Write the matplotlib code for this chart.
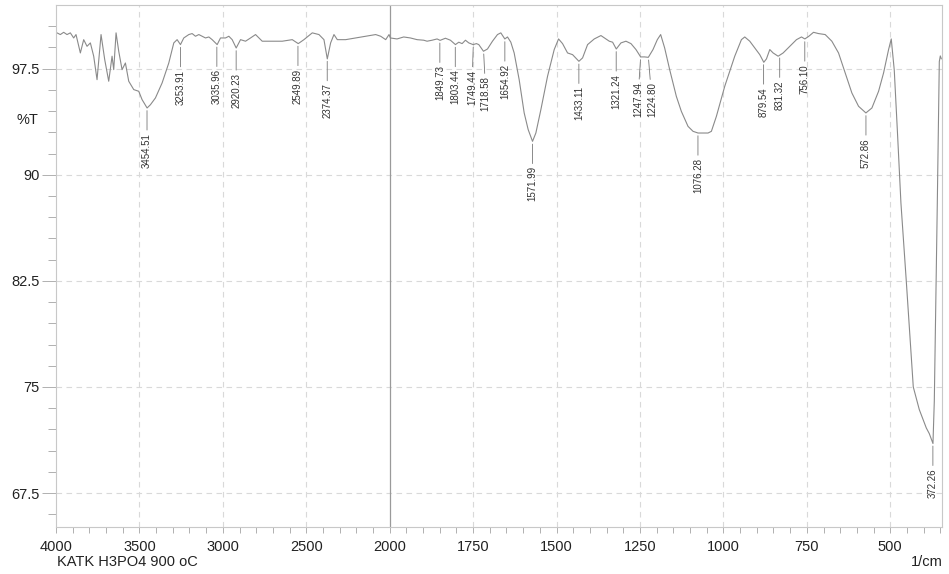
import numpy as np
import matplotlib
matplotlib.use('Agg')
import matplotlib.pyplot as plt
from matplotlib.ticker import FixedLocator, NullFormatter

plt.rcParams['font.family'] = ['Liberation Sans', 'DejaVu Sans']

# spectrum (wavenumber 1/cm, %T)
wavenumber = [4000, 3994, 3974, 3954, 3934, 3914, 3894, 3880, 3854, 3834, 3814, 3794, 3774, 3754,
              3730, 3708, 3684, 3664, 3654, 3640, 3624, 3604, 3584, 3564, 3534, 3504, 3484,
              3454, 3434, 3404, 3364, 3324, 3294, 3274, 3254, 3234, 3204, 3184, 3164, 3144,
              3124, 3104, 3084, 3064, 3034, 3014, 2984, 2964, 2944, 2920, 2894, 2864, 2834,
              2804, 2764, 2704, 2644, 2584, 2548, 2514, 2464, 2424, 2394, 2374, 2354, 2334,
              2314, 2264, 2204, 2144, 2084, 2054, 2024, 2004,
              1998, 1978, 1958, 1938, 1918, 1898, 1888, 1873, 1858, 1849, 1833, 1818, 1803,
              1793, 1783, 1773, 1763, 1750, 1740, 1733, 1719, 1707, 1692, 1677, 1667, 1655,
              1647, 1637, 1627, 1612, 1597, 1585, 1572, 1562, 1547, 1527, 1507, 1494, 1482,
              1467, 1452, 1433, 1422, 1407, 1387, 1367, 1352, 1342, 1332, 1321, 1307, 1292,
              1277, 1262, 1248, 1236, 1225, 1211, 1198, 1188, 1176, 1161, 1141, 1126, 1106,
              1091, 1076, 1061, 1046, 1036, 1021, 996, 966, 946, 936, 921, 906, 891, 879,
              871, 861, 851, 836, 821, 801, 781, 766, 756, 744, 730, 715, 695, 675, 655, 635,
              615, 595, 573, 555, 535, 520, 505, 497, 488, 478, 468, 452, 431, 413, 392, 383,
              372, 368, 359, 353, 350, 347]
transmittance = [100.0, 100.03, 99.91, 100.07, 99.91, 100.03, 99.67, 99.91, 98.61, 99.55, 99.08,
                 99.32, 98.38, 96.72, 99.91, 98.14, 96.61, 98.38, 97.43, 100.03, 98.73, 97.43,
                 97.90, 96.61, 96.02, 95.90, 95.31, 94.72, 94.95, 95.43, 96.49, 97.90, 99.32,
                 99.55, 99.20, 99.67, 99.91, 99.98, 99.79, 99.91, 99.79, 99.67, 99.74, 99.55,
                 99.20, 99.67, 99.67, 99.79, 99.55, 98.96, 99.55, 99.44, 99.67, 99.91, 99.44,
                 99.44, 99.44, 99.55, 99.27, 99.55, 100.03, 99.91, 99.55, 98.19, 99.32, 99.91,
                 99.55, 99.55, 99.67, 99.79, 99.91, 99.79, 99.55, 99.91,
                 99.67, 99.60, 99.74, 99.67, 99.55, 99.51, 99.44, 99.51, 99.60, 99.50, 99.65,
                 99.51, 99.20, 99.37, 99.27, 99.51, 99.32, 99.20, 99.27, 99.20, 98.73, 98.89,
                 99.44, 99.91, 100.03, 99.60, 99.74, 99.37, 98.61, 96.72, 94.37, 93.19, 92.36,
                 92.95, 94.60, 96.96, 98.85, 99.60, 99.27, 98.61, 98.49, 98.02, 98.26, 99.20,
                 99.60, 99.84, 99.60, 99.44, 99.37, 98.89, 99.32, 99.44, 99.27, 98.85, 98.33,
                 98.33, 98.30, 98.85, 99.55, 99.91, 98.96, 97.43, 95.54, 94.48, 93.42, 93.07,
                 92.95, 92.95, 92.95, 93.07, 94.13, 96.25, 98.38, 99.55, 99.74, 99.44, 98.96,
                 98.49, 97.95, 98.19, 98.85, 98.61, 98.38, 98.61, 99.08, 99.55, 99.74, 99.60,
                 99.79, 100.07, 99.98, 99.91, 99.44, 98.61, 97.20, 95.78, 94.84, 94.37, 94.72,
                 95.90, 97.20, 98.85, 99.60, 97.4, 92.8, 88.0, 82.5, 75.0, 73.4, 72.1, 71.7,
                 71.0, 74.0, 88.0, 98.0, 98.4, 98.2]

peaks = [3454.51, 3253.91, 3035.96, 2920.23, 2549.89, 2374.37, 1849.73, 1803.44, 1749.44,
         1718.58, 1654.92, 1571.99, 1433.11, 1321.24, 1247.94, 1224.80, 1076.28, 879.54,
         831.32, 756.10, 572.86, 372.26]
# small sideways nudges (points) for labels that sit close together
nudge = {1749.44: -1.0, 1718.58: 1.5, 1247.94: -2.0, 1224.80: 2.5}

x_major = [4000, 3500, 3000, 2500, 2000, 1750, 1500, 1250, 1000, 750, 500]
x_minor = list(range(3900, 2000, -100)) + list(range(1950, 349, -50))
y_major = [67.5, 75, 82.5, 90, 97.5]
y_minor = list(np.arange(66, 102, 1.5))


# above 2000 1/cm the axis is drawn at half scale
def fwd(x):
    x = np.asarray(x, dtype=float)
    return np.where(x > 2000, 2000 + (x - 2000) / 2, x)


def inv(u):
    u = np.asarray(u, dtype=float)
    return np.where(u > 2000, 2000 + (u - 2000) * 2, u)


fig = plt.figure(figsize=(9.49, 5.74), dpi=100)
ax = fig.add_axes([0.059, 0.0819, 0.9336, 0.9094])
ax.set_xscale('function', functions=(fwd, inv))
ax.set_xlim(4000, 345)
ax.set_ylim(65.1, 102.0)

for v in x_major:
    if v in (4000, 2000):
        continue
    ax.axvline(v, color='#d9d9d9', lw=0.8, ls=(0, (5, 4)), zorder=0)
for v in y_major:
    ax.axhline(v, color='#d9d9d9', lw=0.8, ls=(0, (5, 4)), zorder=0)
ax.axvline(2000, color='#9a9a9a', lw=0.9, zorder=1)

ax.plot(wavenumber, transmittance, color='#8a8a8a', lw=0.8, zorder=2)

wn_sorted = wavenumber[::-1]
t_sorted = transmittance[::-1]
for p in peaks:
    t = np.interp(p, wn_sorted, t_sorted)
    ax.annotate(f'{p:.2f}', xy=(p, t), xytext=(nudge.get(p, 0), -18), textcoords='offset points',
                rotation=90, ha='center', va='top', fontsize=7, color='#333333',
                arrowprops=dict(arrowstyle='-', color='#777777', lw=0.6, shrinkA=0, shrinkB=2))

ax.xaxis.set_major_locator(FixedLocator(x_major))
ax.xaxis.set_minor_locator(FixedLocator(x_minor))
ax.set_xticklabels([str(v) for v in x_major])
ax.xaxis.set_minor_formatter(NullFormatter())
ax.yaxis.set_major_locator(FixedLocator(y_major))
ax.yaxis.set_minor_locator(FixedLocator(y_minor))
ax.set_yticklabels(['67.5', '75', '82.5', '90', '97.5'])

ax.tick_params(axis='x', which='both', direction='out', length=4.5, width=0.7,
               color='#b0b0b0', labelsize=10.5, pad=5, labelcolor='#222222')
ax.tick_params(axis='y', which='major', direction='out', length=10, width=0.7,
               color='#b0b0b0', labelsize=10.5, pad=2, labelcolor='#222222')
ax.tick_params(axis='y', which='minor', direction='out', length=6, width=0.7, color='#b0b0b0')

for s in ax.spines.values():
    s.set_color('#c8c8c8')
    s.set_linewidth(0.8)

ax.set_ylabel('%T', rotation=0, fontsize=10.5, color='#222222')
ax.yaxis.set_label_coords(-0.032, 0.766)

fig.text(0.0604, 0.021, 'KATK H3PO4 900 oC', ha='left', va='center', fontsize=10.5, color='#222222')
fig.text(0.9937, 0.021, '1/cm', ha='right', va='center', fontsize=10.5, color='#222222')

fig.savefig('out.png', dpi=100)
